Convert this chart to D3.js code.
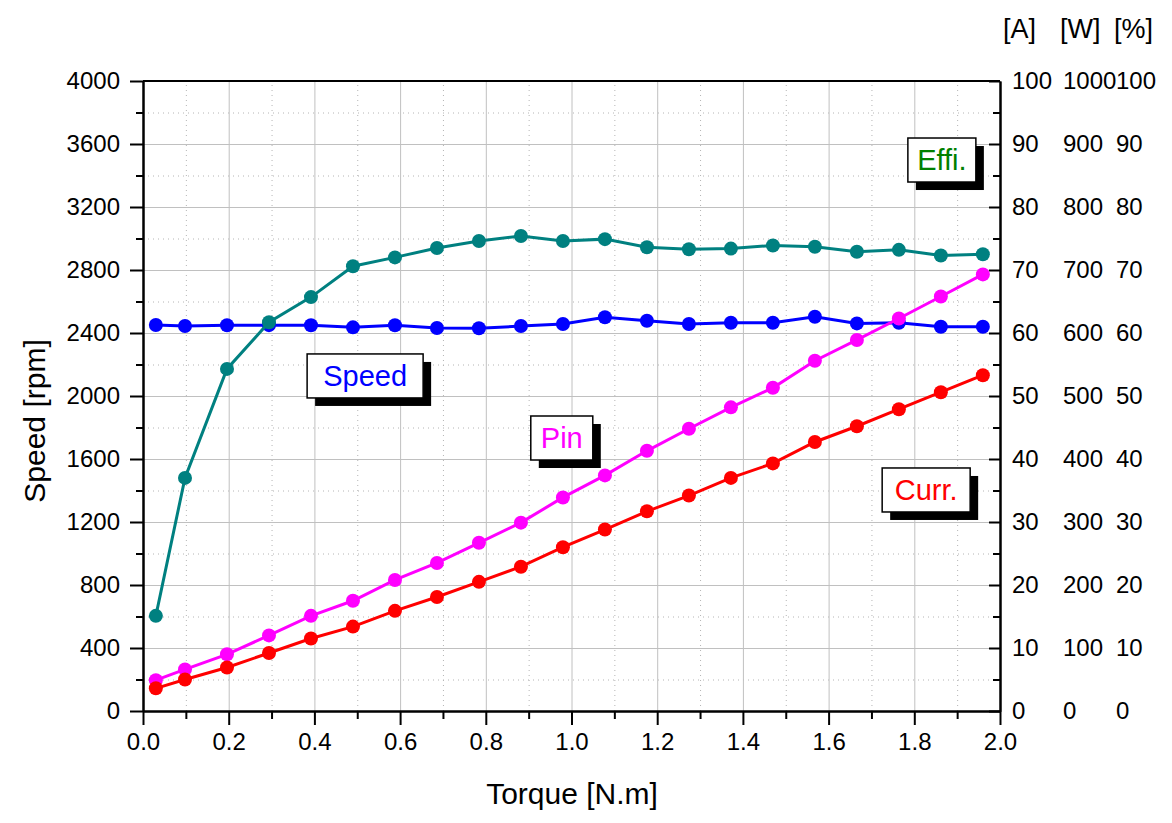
<!DOCTYPE html>
<html>
<head>
<meta charset="utf-8">
<script src="https://cdn.jsdelivr.net/npm/d3@7"></script>
<style>
  body { margin: 0; background: #fff; }
  svg { display: block; }
  svg text { font-family: "Liberation Sans", Arial, Helvetica, sans-serif; }
  .domain { stroke: #000; stroke-width: 2; }
  .tick line { stroke: #000; stroke-width: 2; }
  .grid .domain { display: none; }
  .grid .tick line { stroke: #c0c0c0; stroke-width: 1; }
  .grid.minor .tick line { stroke: #b4b4b4; stroke-dasharray: 1,4; }
</style>
</head>
<body>
<svg id="chart" width="1172" height="823"></svg>
<script>
'use strict';

// torque [N.m]
var torque = [0.03, 0.098, 0.196, 0.294, 0.392, 0.49, 0.588, 0.686, 0.784, 0.882, 0.98,
  1.078, 1.176, 1.274, 1.372, 1.47, 1.568, 1.666, 1.764, 1.862, 1.96];
// speed [rpm]
var speed = [2451, 2444, 2449, 2450, 2449, 2436, 2449, 2432, 2430, 2444, 2457,
  2500, 2478, 2457, 2465, 2465, 2503, 2461, 2465, 2440, 2440];
// efficiency [%]
var effi = [15.1, 37.0, 54.3, 61.7, 65.7, 70.6, 72.0, 73.5, 74.6, 75.4, 74.6,
  74.9, 73.6, 73.3, 73.4, 73.9, 73.7, 72.9, 73.2, 72.3, 72.5];
// input power [W]
var pin = [49, 66, 90, 120, 151, 175, 208, 235, 267, 299, 339,
  374, 413, 448, 482, 513, 556, 589, 623, 658, 693];
// current [A]
var curr = [3.6, 5.0, 6.9, 9.2, 11.5, 13.4, 15.9, 18.1, 20.5, 22.9, 26.0,
  28.8, 31.7, 34.2, 37.0, 39.3, 42.7, 45.2, 47.9, 50.6, 53.3];

var xTicks = d3.range(0, 2.01, 0.2);
var xMinor = d3.range(0.1, 2, 0.2);
var speedTicks = d3.range(0, 4001, 400);
var speedMinor = d3.range(200, 4000, 400);
var ampTicks = d3.range(0, 101, 10);
var wattTicks = d3.range(0, 1001, 100);
var pctTicks = d3.range(0, 101, 10);
var rightUnits = ['[A]', '[W]', '[%]'];

var FONT = '"Liberation Sans", Arial, Helvetica, sans-serif';

var svg = d3.select('#chart').attr('font-family', FONT);
var plotL = 143, plotR = 1000, plotT = 81, plotB = 711;

var x = d3.scaleLinear().domain([0, 2]).range([plotL, plotR]);
var y = d3.scaleLinear().domain([0, 4000]).range([plotB, plotT]);
var yA = d3.scaleLinear().domain([0, 100]).range([plotB, plotT]);
var yW = d3.scaleLinear().domain([0, 1000]).range([plotB, plotT]);
var yP = d3.scaleLinear().domain([0, 100]).range([plotB, plotT]);

//
// grid
//
svg.append('g').attr('class', 'grid minor')
  .attr('transform', 'translate(0,' + plotB + ')')
  .call(d3.axisBottom(x).tickValues(xMinor).tickSize(-(plotB - plotT)).tickFormat(''));
svg.append('g').attr('class', 'grid minor')
  .attr('transform', 'translate(' + plotL + ',0)')
  .call(d3.axisLeft(y).tickValues(speedMinor).tickSize(-(plotR - plotL)).tickFormat(''));
svg.append('g').attr('class', 'grid')
  .attr('transform', 'translate(0,' + plotB + ')')
  .call(d3.axisBottom(x).tickValues(xTicks.slice(1, -1)).tickSize(-(plotB - plotT)).tickFormat(''));
svg.append('g').attr('class', 'grid')
  .attr('transform', 'translate(' + plotL + ',0)')
  .call(d3.axisLeft(y).tickValues(speedTicks.slice(1, -1)).tickSize(-(plotR - plotL)).tickFormat(''));

//
// axes
//
svg.append('line')
  .attr('x1', plotL).attr('x2', plotR).attr('y1', plotT).attr('y2', plotT)
  .attr('stroke', '#000').attr('stroke-width', 2);

var gx = svg.append('g').attr('transform', 'translate(0,' + plotB + ')');
gx.append('g')
  .call(d3.axisBottom(x).tickValues(xMinor).tickSize(8).tickSizeOuter(0).tickFormat(''));
gx.append('g')
  .call(d3.axisBottom(x).tickValues(xTicks).tickSize(14).tickSizeOuter(0).tickPadding(8)
    .tickFormat(d3.format('.1f')));

var gy = svg.append('g').attr('transform', 'translate(' + plotL + ',0)');
gy.append('g')
  .call(d3.axisLeft(y).tickValues(speedMinor).tickSize(7).tickSizeOuter(0).tickFormat(''));
gy.append('g')
  .call(d3.axisLeft(y).tickValues(speedTicks).tickSize(13).tickSizeOuter(0).tickPadding(10)
    .tickFormat(d3.format('d')));

[gx, gy].forEach(g => {
  g.selectAll('g').attr('font-family', FONT).attr('font-size', 24);
  g.selectAll('text').attr('fill', '#000');
});

var gr = svg.append('g').attr('transform', 'translate(' + plotR + ',0)');
gr.append('g')
  .call(d3.axisRight(yA).tickValues(d3.range(5, 100, 10)).tickSize(-7).tickSizeOuter(0).tickFormat(''));
gr.append('g')
  .call(d3.axisRight(yA).tickValues(ampTicks).tickSize(-11).tickSizeOuter(0).tickFormat(''));

// right hand label columns
var cols = [
  { scale: yA, ticks: ampTicks, x: 1012, hx: 1003 },
  { scale: yW, ticks: wattTicks, x: 1063, hx: 1060 },
  { scale: yP, ticks: pctTicks, x: 1116, hx: 1114 }
];
cols.forEach((c, i) => {
  svg.append('g').selectAll('text')
    .data(c.ticks)
    .join('text')
    .attr('x', c.x)
    .attr('y', d => c.scale(d))
    .attr('dy', '0.35em')
    .attr('font-size', 24)
    .text(d => d);
  svg.append('text')
    .attr('x', c.hx)
    .attr('y', 38)
    .attr('font-size', 27)
    .text(rightUnits[i]);
});

// axis titles
svg.append('text')
  .attr('x', 572)
  .attr('y', 804)
  .attr('text-anchor', 'middle')
  .attr('font-size', 30)
  .text('Torque [N.m]');
svg.append('text')
  .attr('transform', 'translate(45,421) rotate(-90)')
  .attr('text-anchor', 'middle')
  .attr('font-size', 30)
  .text('Speed [rpm]');

//
// series
//
var series = [
  { values: speed, scale: y, color: '#0000ff', width: 3 },
  { values: effi, scale: yP, color: '#008080', width: 3 },
  { values: pin, scale: yW, color: '#ff00ff', width: 3 },
  { values: curr, scale: yA, color: '#ff0000', width: 3 }
];

series.forEach(s => {
  var pts = torque.map((t, i) => [t, s.values[i]]);
  var line = d3.line().x(d => x(d[0])).y(d => s.scale(d[1]));
  var g = svg.append('g');
  g.append('path')
    .attr('d', line(pts))
    .attr('fill', 'none')
    .attr('stroke', s.color)
    .attr('stroke-width', s.width);
  g.selectAll('circle')
    .data(pts)
    .join('circle')
    .attr('cx', d => x(d[0]))
    .attr('cy', d => s.scale(d[1]))
    .attr('r', 7)
    .attr('fill', s.color);
});

//
// label boxes (top-left corner in torque / rpm)
//
var labels = [
  { text: 'Speed', color: '#0000ff', t: 0.383, v: 2267, w: 116 },
  { text: 'Effi.', color: '#008000', t: 1.785, v: 3638, w: 68 },
  { text: 'Pin', color: '#ff00ff', t: 0.905, v: 1873, w: 62 },
  { text: 'Curr.', color: '#ff0000', t: 1.725, v: 1543, w: 88 }
];
var boxH = 44;

labels.forEach(l => {
  var bx = x(l.t), by = y(l.v);
  var g = svg.append('g');
  g.append('rect')
    .attr('x', bx + 8).attr('y', by + 8)
    .attr('width', l.w).attr('height', boxH)
    .attr('fill', '#000');
  g.append('rect')
    .attr('x', bx).attr('y', by)
    .attr('width', l.w).attr('height', boxH)
    .attr('fill', '#fff').attr('stroke', '#000').attr('stroke-width', 1.5);
  g.append('text')
    .attr('x', bx + l.w / 2)
    .attr('y', by + boxH / 2)
    .attr('dy', '0.35em')
    .attr('text-anchor', 'middle')
    .attr('font-size', 29)
    .attr('fill', l.color)
    .text(l.text);
});
</script>
</body>
</html>
